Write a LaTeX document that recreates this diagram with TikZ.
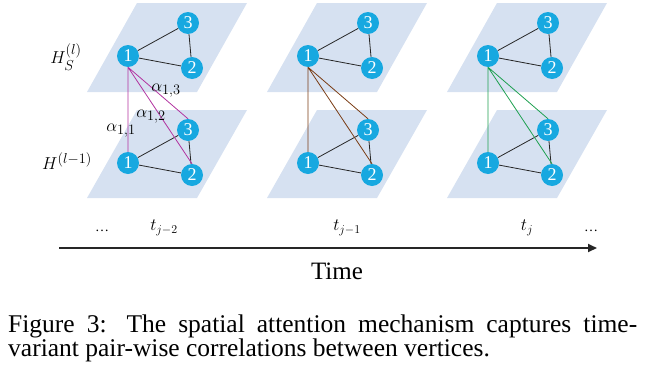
\documentclass[tikz,border=0pt]{standalone}
\usepackage{amsmath}
\usepackage{fontspec}
\setmainfont{Liberation Serif}
\usepackage{tikz}
\usetikzlibrary{arrows.meta}
\definecolor{planeblue}{RGB}{214, 225, 241}
\definecolor{vertexblue}{RGB}{23, 168, 224}
\definecolor{attnpurple}{RGB}{178, 52, 160}
\definecolor{attnbrown}{RGB}{122, 60, 20}
\definecolor{attngreen}{RGB}{30, 160, 80}

\begin{document}
\begin{tikzpicture}[
  x=1pt, y=-1pt,
  plane/.style={fill=planeblue},
  vertex/.style={circle, fill=vertexblue, text=white, minimum size=22pt,
    inner sep=0pt, font=\fontsize{18}{18}\selectfont},
  link/.style={draw=black!85, line width=0.8pt},
  attn/.style={line width=0.8pt},
  mathlabel/.style={font=\fontsize{19}{22}\selectfont},
  ticklabel/.style={font=\fontsize{18}{21}\selectfont}
]
  \useasboundingbox (0,0) rectangle (645,367);

  % one pair of layers per time step
  \foreach \x/\ts/\col in {128/a/attnpurple, 308/b/attnbrown, 488/c/attngreen}{
    \fill[plane] ({\x+9},3) -- ({\x+119},3) -- ({\x+69},92) -- ({\x-41},92) -- cycle;
    \fill[plane] ({\x+9},110) -- ({\x+119},110) -- ({\x+69},198) -- ({\x-41},198) -- cycle;
    % upper layer
    \node[vertex] (\ts u1) at (\x,56) {1};
    \node[vertex] (\ts u3) at ({\x+60},23) {3};
    \node[vertex] (\ts u2) at ({\x+64},68) {2};
    % lower layer
    \node[vertex] (\ts l1) at (\x,163) {1};
    \node[vertex] (\ts l3) at ({\x+60},130) {3};
    \node[vertex] (\ts l2) at ({\x+64},175) {2};
    \draw[link] (\ts u1) -- (\ts u3) (\ts u1) -- (\ts u2) (\ts u3) -- (\ts u2);
    \draw[link] (\ts l1) -- (\ts l3) (\ts l1) -- (\ts l2) (\ts l3) -- (\ts l2);
    \draw[attn, draw=\col] (\ts u1.south) -- (\ts l1.north)
      (\ts u1.south) -- (\ts l2.north) (\ts u1.south) -- (\ts l3.north);
  }

  \node[mathlabel] (hs) at (66,57) {$H_S^{(l)}$};
  \node[mathlabel] (hp) at (67,161) {$H^{(l-1)}$};
  \node[mathlabel] (a11) at (121,131) {$\alpha_{1,1}$};
  \node[mathlabel] (a12) at (151,117) {$\alpha_{1,2}$};
  \node[mathlabel] (a13) at (166,91) {$\alpha_{1,3}$};

  % time axis
  \coordinate (tstart) at (59,248);
  \coordinate (tend) at (597,248);
  \draw[line width=2pt, draw=black!85, -{Triangle[length=9pt,width=8pt]}] (tstart) -- (tend);
  \node[font=\fontsize{14}{16}\selectfont] (dotsl) at (102,231) {\textellipsis};
  \node[ticklabel] (tm2) at (164,228) {$t_{j-2}$};
  \node[ticklabel] (tm1) at (347,228) {$t_{j-1}$};
  \node[ticklabel] (tj) at (527,228) {$t_{j}$};
  \node[font=\fontsize{14}{16}\selectfont] (dotsr) at (591,231) {\textellipsis};
  \node[font=\fontsize{25}{28}\selectfont] (time) at (337,271) {Time};

  \node[anchor=base west, inner sep=0pt, text width=629pt, align=justify,
    font=\fontsize{25.5}{24}\selectfont] (caption) at (8,332)
    {Figure 3: The spatial attention mechanism captures time-\linebreak variant pair-wise correlations between vertices.};
\end{tikzpicture}
\end{document}
